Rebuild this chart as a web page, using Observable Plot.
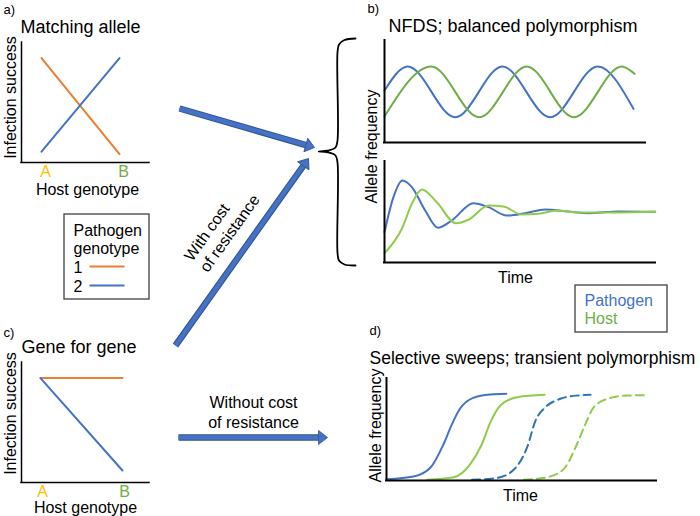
<!DOCTYPE html>
<html><head><meta charset="utf-8">
<script src="https://cdn.jsdelivr.net/npm/d3@7"></script>
<script src="https://cdn.jsdelivr.net/npm/@observablehq/plot@0.6"></script>
<style>
body{margin:0;background:#fff;}
#fig{position:relative;width:700px;height:516px;overflow:hidden;background:#fff;}
#fig > div{position:absolute;}
</style></head><body><div id="fig"></div>
<script>
// ---------------- data ----------------
const hostGenotypes = ["A", "B"];
const pathogenGenotypes = ["1", "2"];
// (a) matching allele: infection success of each pathogen genotype on host A, B
const matchingP1 = [0.87, 0.07];
const matchingP2 = [0.09, 0.87];
// (c) gene for gene
const gfgP1 = [0.87, 0.87];
const gfgP2 = [0.87, 0.10];

// (b) NFDS, sustained cycles (time 0-100, allele frequency 0-1)
const nfdsPathT = [0, 8.9, 27.1, 45.2, 63.5, 81.7, 95.4];
const nfdsPathF = [0.51, 0.745, 0.248, 0.745, 0.248, 0.745, 0.33];
const nfdsHostT = [0, 17.9, 36.3, 54.5, 72.6, 90.9, 95.8];
const nfdsHostF = [0.255, 0.745, 0.248, 0.745, 0.248, 0.745, 0.673];
// (b) NFDS, damped cycles
const dampPathT = [0, 3.3, 6.6, 10.1, 15.0, 19.7, 24.8, 32.8, 38.4, 45.1, 51.9, 59.3, 66.7, 75.3, 86.3, 99.9];
const dampPathF = [0.30, 0.647, 0.812, 0.746, 0.515, 0.344, 0.416, 0.587, 0.548, 0.465, 0.488, 0.525, 0.508, 0.488, 0.505, 0.502];
const dampHostT = [0, 6.4, 10.1, 13.8, 19.3, 26.3, 31.0, 38.4, 43.9, 50.7, 56.8, 63.6, 71.6, 83.9, 99.9];
const dampHostF = [0.092, 0.334, 0.581, 0.723, 0.597, 0.389, 0.423, 0.564, 0.554, 0.475, 0.482, 0.515, 0.495, 0.495, 0.502];

// (d) selective sweeps
const sweepPath1T = [0.25, 10, 16.4, 21.2, 24.3, 27.2, 32.1, 38.5, 44.4];
const sweepPath1F = [0.013, 0.039, 0.13, 0.36, 0.555, 0.703, 0.81, 0.843, 0.85];
const sweepHost1T = [15.1, 24.9, 31.1, 35.4, 38.5, 42.2, 48.4, 58.6];
const sweepHost1F = [0.007, 0.032, 0.163, 0.36, 0.572, 0.735, 0.817, 0.84];
const sweepPath2T = [31.7, 41.0, 47.1, 52.1, 55.2, 58.9, 64.4, 70.6, 75.6];
const sweepPath2F = [0.007, 0.026, 0.105, 0.327, 0.588, 0.719, 0.801, 0.833, 0.84];
const sweepHost2T = [50.9, 59.5, 65.7, 70.6, 73.7, 76.8, 83.0, 89.2, 95.3];
const sweepHost2F = [0.007, 0.032, 0.114, 0.36, 0.555, 0.719, 0.81, 0.833, 0.836];

const legendBTexts = ["Pathogen", "Host"];

// ---------------- styles / layout ----------------
const FONT = '"Liberation Sans", Arial, Helvetica, sans-serif';
const C = {orange: "#ED7D31", blue: "#4472C4", green: "#70AD47", yellow: "#FFC000",
           lime: "#8FCB4C", dblue: "#2E75B6", arrow: "#4472C4", arrowEdge: "#2F528F"};
const pathogenColor = {"1": C.orange, "2": C.blue};
const hostColor = {A: C.yellow, B: C.green};

const fig = document.getElementById("fig");
function place(svg, left, top) {
  const d = document.createElement("div");
  d.style.left = left + "px"; d.style.top = top + "px";
  d.appendChild(svg); fig.appendChild(d);
}
const rows = (t, f) => t.map((x, i) => ({x, y: f[i]}));

function panel(o, marks) {
  return Plot.plot({
    width: o.w, height: o.h,
    marginLeft: o.ml, marginRight: o.mr, marginTop: o.mt, marginBottom: o.mb,
    x: {domain: o.x, axis: null}, y: {domain: [0, 1], axis: null},
    color: {type: "identity"},
    style: {background: "transparent", overflow: "visible", fontFamily: FONT},
    marks: [
      ...marks,
      Plot.ruleX([o.x[0]], {stroke: "#000", strokeWidth: o.sw, strokeLinecap: "square"}),
      Plot.ruleY([0], {stroke: "#000", strokeWidth: o.sw, strokeLinecap: "square"})
    ]
  });
}

function genotypeRows(p1, p2) {
  return hostGenotypes.flatMap((h, i) => [
    {g: pathogenGenotypes[0], x: i, y: p1[i]},
    {g: pathogenGenotypes[1], x: i, y: p2[i]}
  ]);
}
function genotypePanel(p1, p2, o, dx) {
  return panel(o, [
    Plot.line(genotypeRows(p1, p2), {x: "x", y: "y", z: "g", stroke: d => pathogenColor[d.g], strokeWidth: 2}),
    Plot.text(hostGenotypes, {x: (d, i) => i, text: d => d, frameAnchor: "bottom", dy: 14, dx,
      lineAnchor: "bottom", fill: d => hostColor[d], fontSize: 16})
  ]);
}

// (a)
place(genotypePanel(matchingP1, matchingP2,
  {w: 160, h: 200, ml: 21, mr: 11, mt: 42, mb: 38, x: [-0.2564, 1.3846], sw: 1.5}, 4), 0, 0);
// (c)
place(genotypePanel(gfgP1, gfgP2,
  {w: 160, h: 186, ml: 21, mr: 11, mt: 32, mb: 34, x: [-0.2317, 1.3293], sw: 1.5}, 2), 0, 330);

// (b) top
place(panel({w: 340, h: 120, ml: 54, mr: 25, mt: 10, mb: 8, x: [0, 100], sw: 2}, [
  Plot.line(rows(nfdsPathT, nfdsPathF), {x: "x", y: "y", stroke: C.blue, strokeWidth: 2, curve: "monotone-x"}),
  Plot.line(rows(nfdsHostT, nfdsHostF), {x: "x", y: "y", stroke: C.green, strokeWidth: 2, curve: "monotone-x"})
]), 330, 30);
// (b) bottom
place(panel({w: 340, h: 120, ml: 54, mr: 15, mt: 11, mb: 8, x: [0, 100], sw: 2}, [
  Plot.line(rows(dampPathT, dampPathF), {x: "x", y: "y", stroke: C.blue, strokeWidth: 2, curve: "monotone-x"}),
  Plot.line(rows(dampHostT, dampHostF), {x: "x", y: "y", stroke: C.lime, strokeWidth: 2, curve: "monotone-x"})
]), 330, 150);
// (d)
place(panel({w: 340, h: 120, ml: 56, mr: 14, mt: 8, mb: 10, x: [0, 100], sw: 2}, [
  Plot.line(rows(sweepPath1T, sweepPath1F), {x: "x", y: "y", stroke: C.blue, strokeWidth: 2, curve: "monotone-x"}),
  Plot.line(rows(sweepHost1T, sweepHost1F), {x: "x", y: "y", stroke: C.lime, strokeWidth: 2, curve: "monotone-x"}),
  Plot.line(rows(sweepPath2T, sweepPath2F), {x: "x", y: "y", stroke: C.dblue, strokeWidth: 2, curve: "monotone-x", strokeDasharray: "8,5"}),
  Plot.line(rows(sweepHost2T, sweepHost2F), {x: "x", y: "y", stroke: C.lime, strokeWidth: 2, curve: "monotone-x", strokeDasharray: "8,5"})
]), 330, 370);

// ---------------- overlay: annotations (page layout coordinates) ----------------
const arrowSpecs = [
  {x1: 179, y1: 108, x2: 314, y2: 147},
  {x1: 175, y1: 345, x2: 308, y2: 158},
  {x1: 178, y1: 437, x2: 327, y2: 437}
];
const HEAD_L = 9, HEAD_W = 7;
const arrows = arrowSpecs.map(a => {
  const dx = a.x2 - a.x1, dy = a.y2 - a.y1, len = Math.hypot(dx, dy);
  const ux = dx / len, uy = dy / len;
  return {...a, bx: a.x2 - ux * (HEAD_L - 1), by: a.y2 - uy * (HEAD_L - 1), angle: Math.atan2(dy, dx) * 180 / Math.PI};
});
const headSymbol = {draw(ctx) { ctx.moveTo(0, 0); ctx.lineTo(-HEAD_L, -HEAD_W); ctx.lineTo(-HEAD_L, HEAD_W); ctx.closePath(); }};

const braceGeom = {x: 337, tipX: 318, tipY: 151, top: 38, bottom: 265, hookX: 355};
const b = braceGeom;
const bracePts = [
  [b.hookX, b.top], [b.x + 7, b.top + 1.5], [b.x + 1.5, b.top + 6], [b.x, b.top + 14],
  [b.x, b.tipY - 11], [b.x - 2, b.tipY - 4], [b.x - 10, b.tipY - 0.8], [b.tipX, b.tipY],
  [b.x - 10, b.tipY + 0.8], [b.x - 2, b.tipY + 4], [b.x, b.tipY + 11],
  [b.x, b.bottom - 13], [b.x + 1.5, b.bottom - 5], [b.x + 7, b.bottom - 1], [b.hookX, b.bottom]
];

const textsStart = [
  {t: "a)", x: 3, y: 13, s: 13},
  {t: "Matching allele", x: 20, y: 32, s: 18},
  {t: "c)", x: 3, y: 336, s: 13},
  {t: "Gene for gene", x: 21, y: 352, s: 18},
  {t: "b)", x: 367, y: 12, s: 13},
  {t: "NFDS; balanced polymorphism", x: 388, y: 31, s: 18},
  {t: "d)", x: 369, y: 334, s: 13},
  {t: "Selective sweeps; transient polymorphism", x: 369, y: 363, s: 17.5}
];
const textsMiddle = [
  {t: "Host genotype", x: 87, y: 194},
  {t: "Host genotype", x: 85, y: 512},
  {t: "Time", x: 515, y: 282},
  {t: "Time", x: 520, y: 500},
  {t: "Without cost\nof resistance", x: 253, y: 427}
];
const textsRotated = [
  {t: "Infection success", x: 10, y: 97},
  {t: "Infection success", x: 10, y: 413},
  {t: "Allele frequency", x: 371, y: 146},
  {t: "Allele frequency", x: 375, y: 425}
];
const a2 = arrows[1];
const withCost = [{t: "With cost\nof resistance", x: 207.3, y: 272.8}];

const legendBoxes = [
  {x1: 64, x2: 149, y1: 214, y2: 299},
  {x1: 575, x2: 667, y1: 285, y2: 332}
];
const legendA = pathogenGenotypes.map((g, i) => ({g, x: 73, y: 272 + i * 19, lx1: 89, lx2: 124}));
const legendB = legendBTexts.map((t, i) => ({t, x: 584, y: 305 + i * 18}));
const legendBColor = {Pathogen: C.blue, Host: C.green};

const overlay = Plot.plot({
  width: 700, height: 516, margin: 0,
  x: {domain: [0, 700], range: [0, 700], axis: null},
  y: {domain: [0, 516], range: [0, 516], axis: null},
  color: {type: "identity"},
  style: {background: "transparent", overflow: "visible", fontFamily: FONT},
  marks: [
    // arrows
    Plot.link(arrows, {x1: "x1", y1: "y1", x2: "bx", y2: "by", stroke: C.arrowEdge, strokeWidth: 6.5}),
    Plot.link(arrows, {x1: "x1", y1: "y1", x2: "bx", y2: "by", stroke: C.arrow, strokeWidth: 4.5}),
    Plot.dot(arrows, {x: "x2", y: "y2", symbol: headSymbol, rotate: "angle", fill: C.arrow, stroke: C.arrowEdge, strokeWidth: 0.8}),
    // brace
    Plot.line(bracePts, {x: d => d[0], y: d => d[1], curve: "catmull-rom", stroke: "#000", strokeWidth: 1.8}),
    // legend boxes
    Plot.rect(legendBoxes, {x1: "x1", x2: "x2", y1: "y1", y2: "y2", fill: "white", stroke: "#404040", strokeWidth: 1.3}),
    Plot.text(["Pathogen\ngenotype"], {x: 73, y: 253, text: d => d, textAnchor: "start", lineAnchor: "bottom", lineHeight: 1.125, fontSize: 16, fill: "#000"}),
    Plot.text(legendA, {x: "x", y: "y", text: "g", textAnchor: "start", lineAnchor: "bottom", fontSize: 16, fill: "#000"}),
    Plot.link(legendA, {x1: "lx1", x2: "lx2", y1: d => d.y - 6, y2: d => d.y - 6, stroke: d => pathogenColor[d.g], strokeWidth: 2}),
    Plot.text(legendB, {x: "x", y: "y", text: "t", textAnchor: "start", lineAnchor: "bottom", fontSize: 16, fill: d => legendBColor[d.t]}),
    // titles and labels
    Plot.text(textsStart, {x: "x", y: "y", text: "t", fontSize: "s", textAnchor: "start", lineAnchor: "bottom", fill: "#000"}),
    Plot.text(textsMiddle, {x: "x", y: "y", text: "t", fontSize: 16, textAnchor: "middle", lineAnchor: "bottom", lineHeight: 1.2, fill: "#000"}),
    Plot.text(textsRotated, {x: "x", y: "y", text: "t", fontSize: 16, rotate: -90, textAnchor: "middle", lineAnchor: "middle", fill: "#000"}),
    Plot.text(withCost, {x: "x", y: "y", text: "t", fontSize: 16, rotate: a2.angle, textAnchor: "start", lineAnchor: "bottom", lineHeight: 1.2, fill: "#000"})
  ]
});
place(overlay, 0, 0);
</script>
</body></html>
